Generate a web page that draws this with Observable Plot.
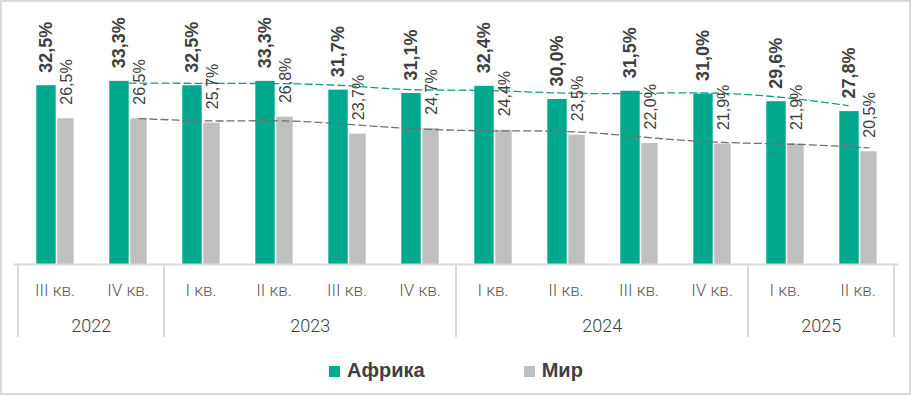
<!DOCTYPE html>
<html><head><meta charset="utf-8">
<script src="https://cdn.jsdelivr.net/npm/d3@7"></script>
<script src="https://cdn.jsdelivr.net/npm/@observablehq/plot@0.6"></script>
<style>
body{margin:0;background:#fff;}
#wrap{position:relative;width:912px;height:395px;background:#fff;overflow:hidden}
#chart{position:absolute;left:0;top:0}
#border{position:absolute;left:0;top:0;width:911px;height:395px;box-sizing:border-box;border:2px solid #d9d9d9;pointer-events:none}
#legend{position:absolute;left:0;width:912px;top:360px;display:flex;justify-content:center;gap:99px;font:bold 20px "Liberation Sans",Arial,sans-serif;color:#404040;line-height:20px}
.item{display:flex;align-items:center}
.sw{width:11px;height:11px;margin-right:7px;display:inline-block;position:relative;top:1px}
</style></head><body>
<div id="wrap"><div id="chart"></div><div id="legend"></div><div id="border"></div></div>
<script>
// ---- data ----
const quarters = ["III кв.","IV кв.","I кв.","II кв.","III кв.","IV кв.","I кв.","II кв.","III кв.","IV кв.","I кв.","II кв."];
const years = [2022,2022,2023,2023,2023,2023,2024,2024,2024,2024,2025,2025];
const africa = [32.5,33.3,32.5,33.3,31.7,31.1,32.4,30.0,31.5,31.0,29.6,27.8];
const world  = [26.5,26.5,25.7,26.8,23.7,24.7,24.4,23.5,22.0,21.9,21.9,20.5];
// dashed trend lines
const africaTrend = [null,33.0,32.95,32.9,32.6,31.8,31.65,31.2,31.1,31.2,30.5,28.9];
const worldTrend  = [null,26.55,26.1,26.1,25.35,24.55,24.3,24.1,23.05,22.2,21.85,21.2];
const seriesNames = ["Африка","Мир"];
const seriesColors = ["#00a88e","#bfbfbf"];
const trendColors = ["#129c86","#6f6f6f"];

// ---- build ----
const keys = quarters.map((q,i)=>years[i]+" "+q);
const rows = keys.map((k,i)=>({key:k, quarter:quarters[i], year:years[i], africa:africa[i], world:world[i], at:africaTrend[i], wt:worldTrend[i]}));
const aTrendRows = rows.filter(d=>d.at!=null);
const wTrendRows = rows.filter(d=>d.wt!=null);
const yearGroups = d3.groups(rows, d=>d.year).map(([year, rs])=>({year:String(year), mid: rs[Math.floor(rs.length/2)].key, first: rs[0].key, last: rs[rs.length-1].key}));
const fmt = v => v.toFixed(1).replace(".", ",") + "%";
const axisFont = "Roboto, 'Liberation Sans', sans-serif";
const labelFont = "'Liberation Sans', Arial, sans-serif";

function separators(index, scales, values, dimensions) {
  const x = scales.x, y = scales.y;
  const step = x(keys[1]) - x(keys[0]);
  const y0 = y(0);
  const xs = yearGroups.map(g => x(g.first));
  xs.push(x(yearGroups[yearGroups.length-1].last) + step);
  const g = d3.create("svg:g");
  g.selectAll("line").data(xs).join("line")
    .attr("x1", d=>d).attr("x2", d=>d)
    .attr("y1", y0).attr("y2", y0 + 73)
    .attr("stroke", "#d9d9d9").attr("stroke-width", 2);
  return g.node();
}

const chart = Plot.plot({
  width: 912, height: 395,
  marginLeft: 14, marginRight: 14, marginTop: 44, marginBottom: 131,
  style: {background: "transparent", fontFamily: labelFont},
  x: {domain: keys, padding: 0, axis: null},
  y: {domain: [0, 40], axis: null},
  marks: [
    Plot.barY(rows, {x: "key", y: "africa", fill: seriesColors[0], insetLeft: 18.3, insetRight: 35.3}),
    Plot.barY(rows, {x: "key", y: "world", fill: seriesColors[1], insetLeft: 39.3, insetRight: 17.3}),
    Plot.line(aTrendRows, {x: "key", y: "at", dx: -10, curve: "natural", stroke: trendColors[0], strokeWidth: 1.3, strokeDasharray: "7,4"}),
    Plot.line(wTrendRows, {x: "key", y: "wt", dx: 11, curve: "natural", stroke: trendColors[1], strokeWidth: 1.3, strokeDasharray: "7,4"}),
    Plot.text(rows, {x: "key", y: "africa", text: d => fmt(d.africa), rotate: -90, textAnchor: "start", lineAnchor: "middle", dx: -8.5, dy: -13, fontSize: 18, fontWeight: "bold", fill: "#404040", fontFamily: labelFont}),
    Plot.text(rows, {x: "key", y: "world", text: d => fmt(d.world), rotate: -90, textAnchor: "start", lineAnchor: "middle", dx: 12, dy: -14, fontSize: 16, fill: "#404040", fontFamily: labelFont}),
    Plot.ruleY([0], {stroke: "#d9d9d9", strokeWidth: 2}),
    separators,
    Plot.text(rows, {x: "key", y: () => 0, text: "quarter", dy: 26, fontSize: 17, fontWeight: 300, fill: "#595959", fontFamily: axisFont}),
    Plot.text(yearGroups, {x: "mid", y: () => 0, text: "year", dx: -36.83, dy: 62, fontSize: 18, fontWeight: 300, fill: "#404040", fontFamily: axisFont})
  ]
});
document.getElementById("chart").appendChild(chart);

const legend = d3.select("#legend");
seriesNames.forEach((n,i)=>{
  const it = legend.append("div").attr("class","item");
  it.append("span").attr("class","sw").style("background", seriesColors[i]);
  it.append("span").text(n);
});
</script>
</body></html>
